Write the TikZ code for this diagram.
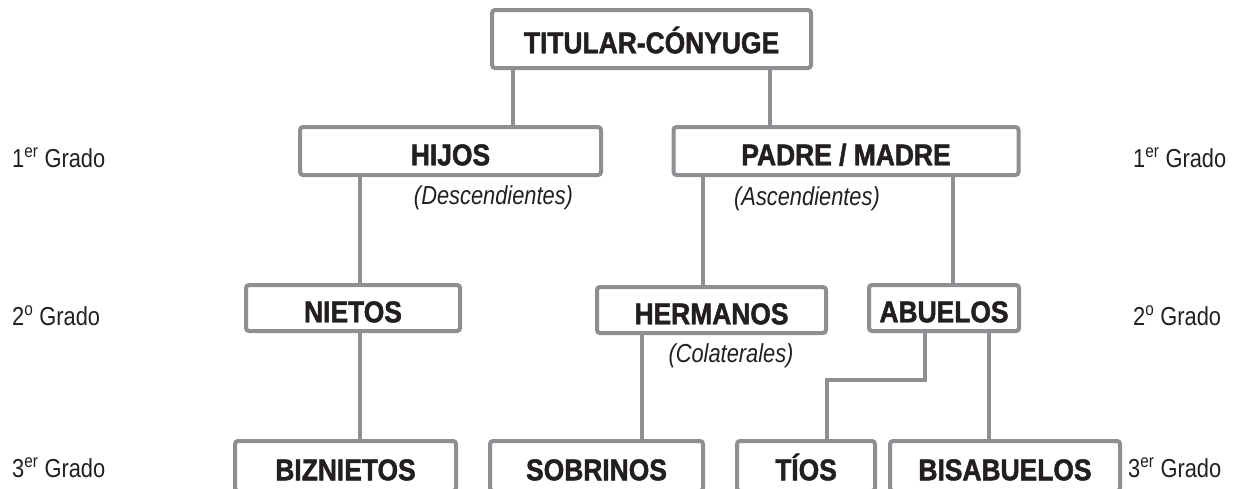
\documentclass[tikz,border=0pt]{standalone}
\usepackage{fontspec}
\setmainfont[FakeStretch=0.88, BoldFeatures={FakeBold=1.6}]{Liberation Sans}
\newfontfamily\gradofont[FakeStretch=0.84]{Liberation Sans}
\definecolor{linegray}{HTML}{8D8F92}
\definecolor{inkblack}{HTML}{231F20}

\begin{document}
\begin{tikzpicture}[
  x=1pt, y=-1pt,
  kin/.style={
    draw=linegray, line width=4pt, rounded corners=3pt, fill=white,
    text=inkblack, inner sep=0pt,
    font=\fontsize{30}{30}\selectfont\bfseries,
    text height=28.5pt, text depth=0pt
  },
  branch/.style={draw=linegray, line width=3.5pt},
  grado/.style={anchor=base west, inner sep=0pt, text=inkblack,
    font=\gradofont\fontsize{26}{26}\selectfont},
  rama/.style={inner sep=0pt, text=inkblack,
    font=\gradofont\itshape\fontsize{26}{26}\selectfont}
]
\useasboundingbox (0,0) rectangle (1236,488);
\clip (0,0) rectangle (1236,488);

% connector columns
\coordinate (xHijos) at (513,0);
\coordinate (xPadre) at (770,0);
\coordinate (xNietos) at (360,0);
\coordinate (xHerm) at (703,0);
\coordinate (xAbue) at (953,0);
\coordinate (xSobr) at (642,0);
\coordinate (xTiosUp) at (925,0);
\coordinate (xTios) at (827,0);
\coordinate (xBisa) at (989,0);
\coordinate (kneeTios) at (925,380);

% level 0
\node[kin, minimum width=319pt, minimum height=58pt] (titular) at (651.5,39) {TITULAR-CÓNYUGE};

% level 1
\node[kin, minimum width=301pt, minimum height=48pt] (hijos) at (450.5,151) {HIJOS};
\node[kin, minimum width=345pt, minimum height=48pt] (padres) at (846,151) {PADRE / MADRE};

% level 2
\node[kin, minimum width=214pt, minimum height=46pt] (nietos) at (353,308) {NIETOS};
\node[kin, minimum width=229pt, minimum height=46pt] (hermanos) at (711.5,310) {HERMANOS};
\node[kin, minimum width=150pt, minimum height=46pt] (abuelos) at (944,308) {ABUELOS};

% level 3
\node[kin, minimum width=221pt, minimum height=50pt] (biznietos) at (345.5,466) {BIZNIETOS};
\node[kin, minimum width=213pt, minimum height=50pt] (sobrinos) at (596.5,466) {SOBRINOS};
\node[kin, minimum width=138pt, minimum height=50pt] (tios) at (806,466) {TÍOS};
\node[kin, minimum width=230pt, minimum height=50pt] (bisabuelos) at (1005,466) {BISABUELOS};

% connectors
\draw[branch] (titular.south -| xHijos) -- (hijos.north -| xHijos);
\draw[branch] (titular.south -| xPadre) -- (padres.north -| xPadre);
\draw[branch] (hijos.south -| xNietos) -- (nietos.north -| xNietos);
\draw[branch] (padres.south -| xHerm) -- (hermanos.north -| xHerm);
\draw[branch] (padres.south -| xAbue) -- (abuelos.north -| xAbue);
\draw[branch] (nietos.south -| xNietos) -- (biznietos.north -| xNietos);
\draw[branch] (hermanos.south -| xSobr) -- (sobrinos.north -| xSobr);
\draw[branch] (abuelos.south -| xTiosUp) -- (kneeTios) -| (tios.north -| xTios);
\draw[branch] (abuelos.south -| xBisa) -- (bisabuelos.north -| xBisa);

% branch names
\node[rama] (desc) at (493.5,198) {(Descendientes)};
\node[rama] (asc) at (807,199) {(Ascendientes)};
\node[rama] (col) at (731,356) {(Colaterales)};

% degrees
\node[grado] (g1l) at (12,167) {1\textsuperscript{er} Grado};
\node[grado] (g2l) at (12,325) {2\textsuperscript{o} Grado};
\node[grado] (g3l) at (12,477) {3\textsuperscript{er} Grado};
\node[grado] (g1r) at (1133,167) {1\textsuperscript{er} Grado};
\node[grado] (g2r) at (1133,325) {2\textsuperscript{o} Grado};
\node[grado] (g3r) at (1128,477) {3\textsuperscript{er} Grado};
\end{tikzpicture}
\end{document}
